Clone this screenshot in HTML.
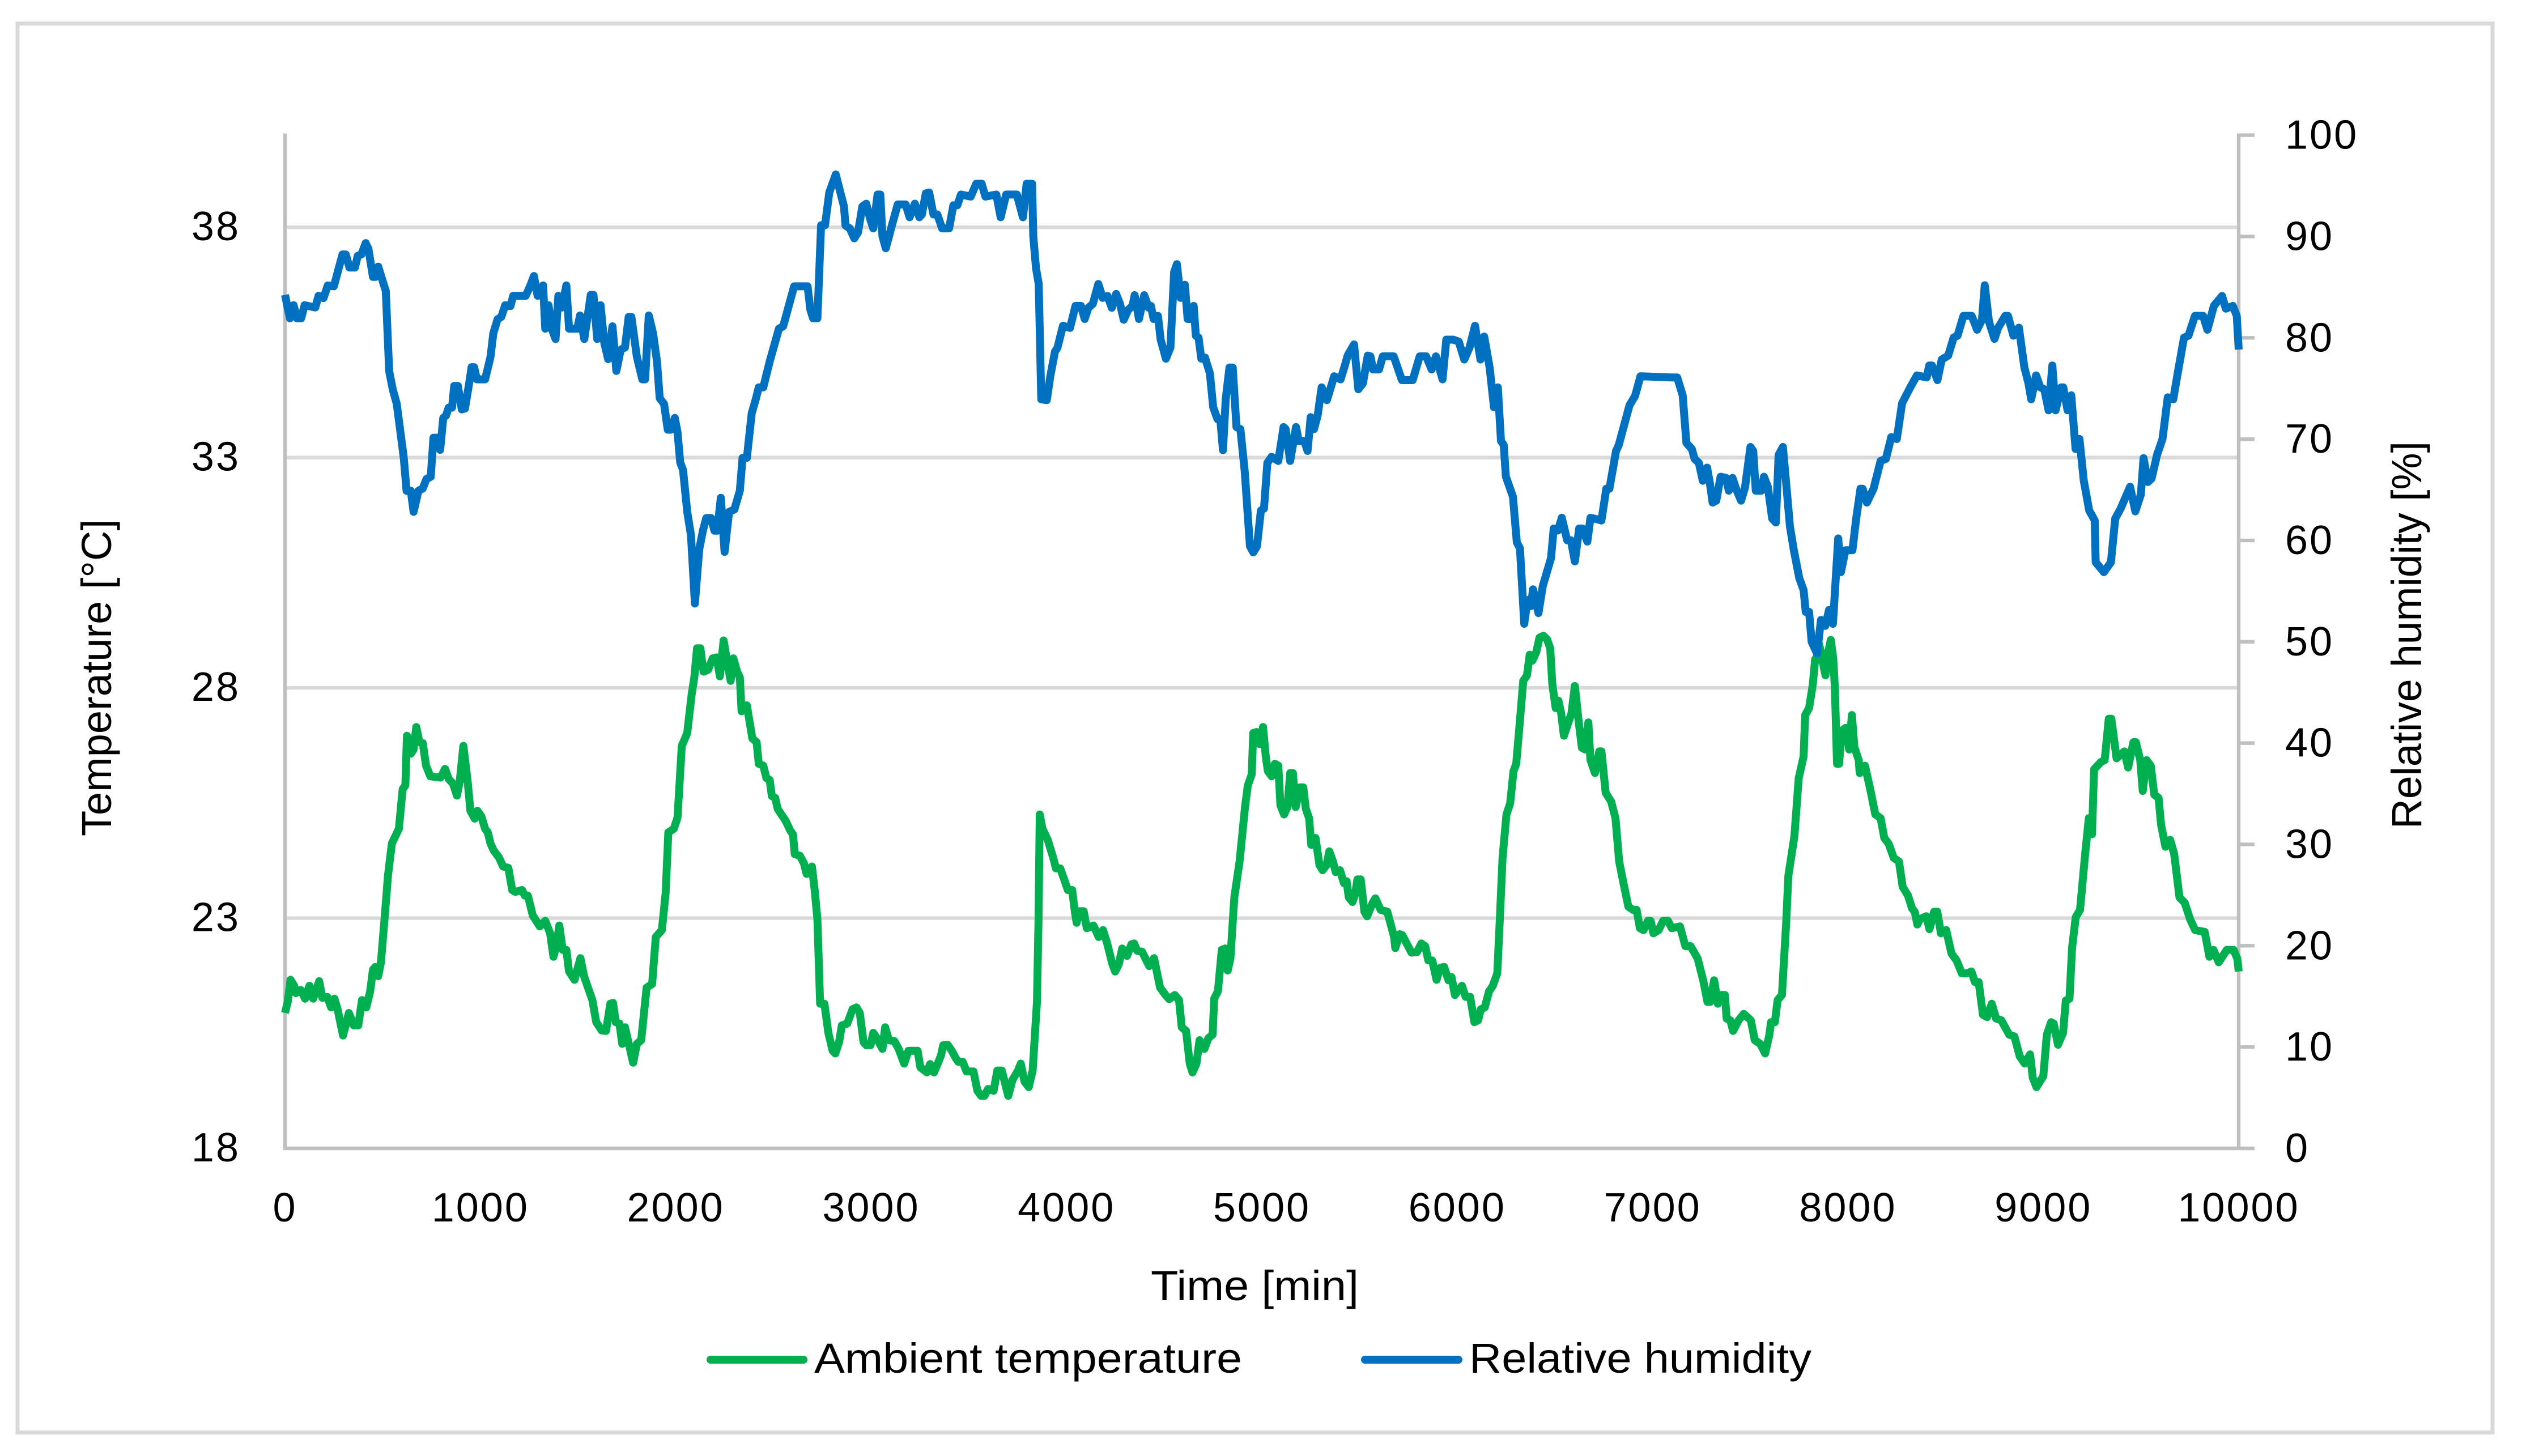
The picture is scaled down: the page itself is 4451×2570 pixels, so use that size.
<!DOCTYPE html>
<html lang="en">
<head>
<meta charset="utf-8">
<title>Ambient temperature and relative humidity over time</title>
<style>
  html, body { margin: 0; padding: 0; background: #fff; width: 4451px; height: 2570px; overflow: hidden; }
  svg { display: block; }
  text { font-family: "Liberation Sans", sans-serif; fill: #000; }
  .tick { font-size: 72px; letter-spacing: 3px; }
  .title { font-size: 74px; }
</style>
</head>
<body>
<svg id="chart" xmlns="http://www.w3.org/2000/svg" width="4451" height="2570" viewBox="0 0 4451 2570">
  <rect x="0" y="0" width="4451" height="2570" fill="#ffffff"/>
  <rect x="31" y="41.5" width="4368" height="2487" fill="none" stroke="#D9D9D9" stroke-width="7"/>
  <g id="grid"></g>
  <g id="axes"></g>
  <g id="series"></g>
  <g id="labels"></g>
  <text class="title" x="2031" y="2295" textLength="367" lengthAdjust="spacingAndGlyphs">Time [min]</text>
  <text class="title" transform="translate(196,1476) rotate(-90)" textLength="560" lengthAdjust="spacingAndGlyphs">Temperature [°C]</text>
  <text class="title" transform="translate(4273,1463) rotate(-90)" textLength="684" lengthAdjust="spacingAndGlyphs">Relative humidity [%]</text>
  <g>
    <line x1="1254" y1="2400" x2="1418" y2="2400" stroke="#00B050" stroke-width="14" stroke-linecap="round"/>
    <text class="title" x="1437" y="2423" textLength="755" lengthAdjust="spacingAndGlyphs">Ambient temperature</text>
    <line x1="2409" y1="2400" x2="2574" y2="2400" stroke="#0070C0" stroke-width="14" stroke-linecap="round"/>
    <text class="title" x="2593" y="2423" textLength="604" lengthAdjust="spacingAndGlyphs">Relative humidity</text>
  </g>
</svg>
<script>
const xTicks = [0,1000,2000,3000,4000,5000,6000,7000,8000,9000,10000];
const tempTicks = [18,23,28,33,38];
const humidityTicks = [0,10,20,30,40,50,60,70,80,90,100];

const tempTime = [
0,14,28,47,56,80,103,125,144,175,191,216,236,253,269,297,327,352,375,394,416,436,450,463,477,491,511,527,547,583,602,616,624,644,658,672,688,705,722,744,796,819,838,860,880,894,913,935,949,971,985,1005,1024,1038,1052,1068,1096,1116,1143,1163,1179,1213,1227,1243,1268,1304,1332,1357,1374,1390,1404,1421,1440,1454,1482,1512,1532,1573,1593,1621,1643,1665,1679,1693,1712,1726,1740,1782,1801,1823,1851,1879,1898,1929,1948,1962,1990,2009,2031,2059,2081,2095,2109,2126,2142,2165,2189,2209,2226,2245,2267,2281,2295,2314,2328,2337,2364,2392,2414,2425,2448,2464,2481,2492,2509,2522,2564,2586,2600,2609,2636,2656,2670,2697,2711,2725,2739,2761,2781,2803,2817,2836,2850,2878,2905,2925,2942,2961,2975,2997,3011,3030,3044,3058,3072,3091,3119,3141,3169,3191,3238,3252,3286,3302,3322,3341,3358,3369,3391,3413,3433,3446,3469,3488,3524,3544,3563,3580,3599,3627,3646,3669,3702,3724,3752,3766,3785,3807,3827,3849,3857,3863,3877,3904,3932,3946,3968,3988,4007,4029,4043,
4052,4068,4088,4104,4138,4165,4187,4207,4235,4249,4268,4285,4310,4332,4346,4362,4387,4423,4448,4479,4507,4526,4554,4576,4590,4612,4631,4645,4665,4681,4706,4726,4748,4756,4775,4795,4812,4825,4839,4859,4886,4914,4928,4948,4956,4973,4989,5006,5020,5031,5050,5067,5084,5095,5114,5131,5145,5159,5173,5195,5212,5225,5242,5253,5275,5295,5311,5331,5345,5364,5378,5400,5420,5434,5445,5464,5478,5489,5506,5525,5539,5567,5581,5608,5642,5677,5683,5705,5719,5766,5794,5816,5836,5852,5872,5894,5913,5933,5955,5971,5988,6024,6043,6066,6088,6107,6121,6141,6163,6182,6205,6218,6232,6252,6271,6288,6302,6321,6338,6357,6371,6385,6405,6421,6441,6460,6476,6487,6504,6518,6532,6546,6566,6585,6602,6621,6638,6654,6671,6682,6705,6727,6738,6760,6788,6810,6829,6851,6876,6899,6918,6935,6954,6976,6990,7004,7031,7054,7079,7098,7140,7168,7195,7231,7259,7281,7295,7315,7334,7348,7370,7379,7398,7412,7440,7467,7503,7523,7551,7576,7598,7606,7626,7640,7662,7684,7695,7726,7748,7773,7781,7801,7820,
7832,7845,7853,7885,7899,7912,7925,7933,7944,7955,7966,7988,8006,8020,8033,8055,8060,8087,8114,8140,8167,8186,8208,8234,8261,8280,8307,8328,8342,8355,8369,8401,8417,8441,8457,8476,8503,8530,8556,8583,8610,8632,8650,8669,8691,8712,8736,8758,8785,8825,8852,8879,8905,8932,8946,8965,9000,9018,9040,9053,9075,9101,9115,9134,9147,9166,9188,9214,9233,9249,9260,9295,9314,9335,9348,9375,9415,9434,9461,9474,9496,9509,9528,9550,9568,9590,9603,9625,9649,9670,9697,9724,9751,9777,9826,9850,9871,9898,9939,9974,9993,10000
];
const tempValues = [
20.94,21.18,21.66,21.53,21.37,21.44,21.25,21.53,21.25,21.63,21.27,21.29,21.06,21.25,21.02,20.45,20.94,20.67,20.67,21.22,21.06,21.41,21.88,21.94,21.74,22.04,23.06,23.92,24.62,24.94,25.80,25.88,26.96,26.57,26.66,27.15,26.82,26.80,26.31,26.08,26.05,26.24,26.02,25.92,25.66,25.96,26.74,25.96,25.33,25.16,25.33,25.21,24.94,24.86,24.62,24.47,24.31,24.12,24.09,23.61,23.57,23.61,23.49,23.49,23.06,22.82,22.94,22.67,22.16,22.43,22.84,22.31,22.31,21.84,21.66,22.13,21.72,21.22,20.74,20.56,20.55,21.14,21.16,20.74,20.71,20.27,20.63,19.86,20.27,20.35,21.49,21.57,22.59,22.74,23.53,24.86,24.94,25.18,26.74,27.02,27.84,28.23,28.86,28.86,28.35,28.39,28.64,28.66,28.25,29.03,28.47,28.15,28.64,28.35,28.23,27.49,27.62,26.90,26.82,26.35,26.31,26.04,26.00,25.65,25.61,25.37,25.10,24.90,24.82,24.39,24.35,24.19,23.96,24.12,23.61,22.98,21.14,21.14,20.51,20.12,20.06,20.31,20.67,20.71,21.02,21.06,20.94,20.31,20.24,20.24,20.51,20.39,20.27,20.16,20.63,20.35,20.33,20.16,19.84,20.12,20.12,19.76,19.65,19.83,19.65,19.84,20.02,20.24,20.25,20.12,19.96,19.88,19.88,19.67,19.67,19.25,19.14,19.14,19.29,19.25,19.69,19.69,19.14,19.49,19.69,19.84,19.45,19.33,19.69,21.18,22.98,25.25,24.94,24.70,24.31,24.08,24.08,23.84,23.61,23.61,23.14,
22.90,23.15,23.15,22.78,22.84,22.59,22.74,22.47,22.00,21.84,22.00,22.34,22.18,22.43,22.45,22.29,22.27,21.96,22.13,21.49,21.33,21.24,21.33,21.22,20.63,20.55,19.84,19.65,19.84,20.35,20.16,20.39,20.47,21.25,21.41,22.31,22.34,21.86,22.12,23.45,24.23,25.41,25.88,26.12,27.02,27.04,26.78,27.15,26.51,26.19,26.08,26.35,26.31,25.45,25.25,25.41,26.15,26.15,25.41,25.84,25.84,25.37,25.17,24.59,24.74,24.15,24.04,24.15,24.45,24.23,24.00,24.04,23.76,23.80,23.45,23.35,23.53,23.84,23.84,23.14,23.04,23.33,23.43,23.18,23.14,22.59,22.35,22.65,22.63,22.25,22.26,22.45,22.39,22.08,22.08,21.66,21.92,21.94,21.65,21.72,21.33,21.53,21.29,21.29,20.74,20.78,21.02,21.06,21.41,21.53,21.80,22.98,24.31,25.25,25.49,26.19,26.35,27.29,28.15,28.27,28.72,28.59,28.78,29.09,29.13,29.05,28.86,28.07,27.56,27.72,27.45,26.96,27.21,27.45,28.04,27.29,26.70,26.66,27.25,26.43,26.15,26.62,26.62,25.72,25.53,25.17,24.23,23.76,23.25,23.18,23.18,22.78,22.74,22.94,22.94,22.67,22.74,22.94,22.94,22.78,22.82,22.39,22.39,22.12,21.65,21.18,21.18,21.65,21.14,21.33,21.33,20.82,20.78,20.55,20.78,20.92,20.78,20.35,20.27,20.06,20.47,20.74,20.74,21.22,21.33,22.90,23.92,24.78,26.04,26.51,27.41,27.56,28.07,
28.62,28.70,28.94,28.27,28.78,29.04,28.63,28.00,26.35,26.35,27.06,27.13,26.66,27.41,26.71,26.43,26.15,26.31,25.80,25.25,25.17,24.74,24.62,24.31,24.23,23.68,23.49,23.21,23.14,22.86,22.98,23.04,22.76,23.14,23.14,22.67,22.74,22.23,22.08,21.80,21.80,21.84,21.61,21.61,20.90,20.85,21.14,20.82,20.78,20.47,20.43,20.00,19.84,20.04,19.53,19.33,19.57,20.47,20.74,20.71,20.25,20.51,21.21,21.25,22.35,23.02,23.18,24.39,25.17,24.82,26.23,26.39,26.43,27.33,27.33,26.47,26.62,26.27,26.82,26.82,26.43,25.76,26.43,26.31,25.68,25.61,25.02,24.55,24.70,24.39,23.45,23.33,22.98,22.74,22.70,22.16,22.31,22.04,22.31,22.31,22.12,21.84
];

const humidityTime = [
0,11,25,44,61,83,100,155,172,197,219,250,294,311,330,358,372,391,413,427,450,463,477,497,516,533,552,572,608,622,644,658,683,705,724,746,760,780,794,810,824,838,855,866,885,905,921,941,955,968,982,1024,1052,1066,1088,1107,1127,1154,1168,1232,1254,1274,1293,1321,1332,1349,1365,1385,1399,1418,1440,1454,1496,1510,1532,1565,1579,1598,1615,1634,1654,1676,1696,1718,1740,1759,1773,1801,1829,1843,1862,1884,1904,1918,1940,1959,1976,1995,2009,2023,2037,2059,2078,2098,2120,2139,2156,2181,2198,2212,2231,2250,2273,2300,2328,2342,2364,2389,2411,2425,2448,2481,2528,2550,2606,2675,2689,2703,2725,2744,2764,2786,2819,2861,
2869,2891,2914,2933,2955,2975,2997,3011,3033,3047,3058,3075,3108,3136,3177,3197,3224,3247,3260,3280,3297,3319,3339,3363,3399,3421,3441,3460,3510,3538,3566,3585,3641,3663,3691,3746,3777,3796,3824,3830,3844,3858,3871,3899,3918,3941,3954,3982,4018,4046,4074,4093,4112,4135,4163,4185,4210,4232,4254,4274,4293,4316,4338,4349,4371,4398,4421,4432,4446,4468,4482,4509,4532,4551,4565,4584,4606,4620,4640,4651,4662,4676,4690,4709,4734,4751,4773,4787,4801,4815,4834,4851,4870,4890,4912,4939,4956,4975,4995,5011,5028,5050,5084,5111,5122,5145,5175,5189,5217,5234,5250,5267,5286,5306,5333,5370,5403,5425,5439,5472,5494,5517,5542,5556,5569,5600,5619,5675,5717,5772,5808,5841,5869,5891,5925,5944,5980,6008,6036,6063,6091,6119,6138,6166,6188,6208,6224,6238,6249,6285,6305,6321,6343,6360,6377,6388,6416,6438,6480,6494,6516,6535,6563,6582,6602,6624,6641,6666,6682,6716,6738,6763,6779,6813,6827,6882,6910,6938,7098,
7126,7154,7173,7201,7215,7237,7257,7279,7293,7307,7326,7348,7376,7390,7409,7431,7453,7473,7501,7515,7528,7556,7570,7590,7612,7631,7645,7667,7687,7703,7723,7751,7773,7784,7801,7814,7842,7862,7884,7903,7923,7950,7964,7987,8023,8042,8064,8075,8097,8131,8167,8194,8222,8250,8277,8319,8353,8403,8416,8430,8458,8480,8513,8541,8561,8591,8633,8661,8686,8700,8722,8750,8769,8805,8819,8847,8875,8903,8924,8938,8963,8985,9005,9027,9046,9063,9091,9102,9124,9143,9165,9185,9207,9235,9263,9268,9310,9346,9368,9396,9444,9471,9499,9513,9535,9554,9582,9610,9637,9665,9693,9720,9743,9776,9818,9840,9873,9915,9934,9970,9990,10000
];
const humidityValues = [
84.24,83.22,81.93,83.22,81.93,81.93,83.22,82.99,84.15,83.92,85.17,85.08,88.23,88.23,86.93,86.93,88.09,88.23,89.35,88.79,86.01,86.01,87.03,85.77,84.61,76.73,74.87,73.48,68.15,64.90,64.90,62.82,64.90,65.13,66.06,66.29,70.14,70.14,68.94,72.09,72.32,73.11,73.11,75.25,75.25,72.93,73.02,75.34,77.10,77.10,75.90,75.90,78.12,80.44,81.83,82.06,83.22,83.13,84.15,84.15,85.08,86.10,84.15,85.17,80.90,83.22,80.90,79.88,84.15,82.99,85.17,80.90,80.90,82.20,79.88,84.24,84.24,79.88,83.22,79.51,77.89,81.14,76.73,78.82,79.05,82.06,82.06,78.12,75.90,75.90,82.20,80.44,77.66,74.04,73.48,70.93,70.93,72.09,70.70,67.69,66.99,62.82,60.50,53.77,59.11,60.96,62.21,62.21,60.96,60.96,64.21,58.87,62.82,63.05,64.90,68.15,68.15,72.56,74.04,75.11,75.11,77.66,80.90,81.14,85.08,85.08,82.76,81.93,81.93,91.11,91.11,94.35,96.12,92.96,
91.08,90.80,89.82,90.41,92.96,93.24,91.59,90.80,94.14,94.14,90.02,88.84,91.20,93.16,93.16,91.90,93.24,91.90,92.18,94.26,94.34,92.18,92.18,90.80,90.80,93.08,93.08,94.14,93.94,95.20,95.20,93.94,94.14,91.90,94.14,94.14,91.90,95.20,95.20,90.02,86.88,85.31,73.93,73.85,76.29,78.64,79.03,81.19,80.98,83.15,83.15,81.86,82.96,83.35,85.31,83.94,84.13,82.96,84.33,83.35,81.78,82.76,83.15,84.21,81.86,84.21,82.96,83.15,81.86,82.17,79.82,77.94,79.03,86.49,87.27,83.94,85.23,81.86,81.86,83.15,80.21,80.02,77.94,78.05,76.49,73.15,71.97,71.97,68.91,73.93,77.07,77.07,71.19,70.99,66.87,59.42,58.83,59.42,62.95,63.15,67.66,68.25,67.85,71.19,70.99,67.85,71.19,69.82,69.82,68.83,72.17,70.99,72.37,75.11,73.85,76.21,75.90,77.27,78.25,79.35,74.92,75.50,78.25,78.17,76.88,76.88,78.17,78.17,75.82,75.82,78.17,78.17,76.88,78.17,75.90,79.82,79.82,79.62,77.86,79.03,81.19,77.86,80.13,77.07,73.15,75.11,69.82,69.42,66.29,64.33,59.81,59.22,51.77,54.12,53.53,55.18,52.83,55.50,58.24,61.18,60.99,62.24,60.01,60.01,57.93,61.18,61.18,59.89,62.24,62.09,61.97,65.11,65.11,68.83,69.42,73.35,74.25,76.21,76.09,
76.09,74.33,69.62,69.03,68.05,67.66,65.89,67.19,65.70,63.74,63.93,66.29,66.17,64.91,66.17,64.91,63.93,65.23,69.23,68.83,64.91,64.91,66.29,65.30,62.16,61.77,68.44,69.23,64.91,61.38,59.03,56.28,55.10,52.95,52.95,50.00,48.83,52.16,51.57,53.14,51.77,60.20,56.87,59.03,59.03,62.16,65.11,65.11,63.74,65.11,67.85,68.05,70.21,70.01,73.54,75.11,76.29,76.09,77.27,77.27,75.82,77.86,78.25,80.02,80.21,82.17,82.17,80.80,81.78,85.19,81.58,79.90,81.00,82.17,82.17,80.21,81.00,77.07,75.50,73.93,76.29,75.11,74.92,72.84,77.27,72.84,75.11,75.11,72.84,74.33,69.03,70.01,65.89,62.95,61.97,57.85,56.87,57.85,62.16,63.15,65.30,62.87,64.52,68.13,65.77,66.09,68.44,70.01,74.13,73.93,77.07,80.02,80.21,82.17,82.17,80.80,83.15,84.13,82.88,83.15,82.17,78.84
];

const NS = 'http://www.w3.org/2000/svg';
const plotLeft = 503, plotRight = 3951, plotBottom = 2027, plotTop = 238.6;
const xScale = t => plotLeft + (t - 0) / 10000 * (plotRight - plotLeft);
const yTemp = v => plotBottom - (v - 18) / (40 - 18) * (plotBottom - plotTop);
const yHumidity = v => plotBottom - v / 100 * (plotBottom - plotTop);

const gridGroup = document.getElementById('grid');
const axesGroup = document.getElementById('axes');
const seriesGroup = document.getElementById('series');
const labelGroup = document.getElementById('labels');

function makeLine(x1, y1, x2, y2, color) {
  const el = document.createElementNS(NS, 'line');
  el.setAttribute('x1', x1);
  el.setAttribute('y1', y1);
  el.setAttribute('x2', x2);
  el.setAttribute('y2', y2);
  el.setAttribute('stroke', color);
  el.setAttribute('stroke-width', '6.4');
  return el;
}
function makeLabel(x, y, anchor, content) {
  const el = document.createElementNS(NS, 'text');
  el.setAttribute('class', 'tick');
  el.setAttribute('x', x);
  el.setAttribute('y', y);
  el.setAttribute('text-anchor', anchor);
  el.textContent = content;
  return el;
}

tempTicks.forEach(v => {
  if (v > 18) {
    const g = makeLine(plotLeft, yTemp(v), plotRight, yTemp(v), '#D9D9D9');
    
    
    gridGroup.appendChild(g);
  }
  const lab = makeLabel(424, yTemp(v) + 23, 'end', String(v));
  
  
  labelGroup.appendChild(lab);
});

const leftAxis = makeLine(plotLeft, plotTop - 3, plotLeft, plotBottom + 3, '#BFBFBF');


axesGroup.appendChild(leftAxis);

const rightAxis = makeLine(plotRight, plotTop - 3, plotRight, plotBottom + 3, '#BFBFBF');


axesGroup.appendChild(rightAxis);

const xAxis = makeLine(plotLeft, plotBottom, plotRight, plotBottom, '#BFBFBF');


axesGroup.appendChild(xAxis);

humidityTicks.forEach(v => {
  const tick = makeLine(plotRight, yHumidity(v), plotRight + 28, yHumidity(v), '#BFBFBF');
  
  
  axesGroup.appendChild(tick);
  const lab = makeLabel(4033, yHumidity(v) + 24, 'start', String(v));
  
  
  labelGroup.appendChild(lab);
});

xTicks.forEach(t => {
  const lab = makeLabel(xScale(t), 2156, 'middle', String(t));
  
  
  labelGroup.appendChild(lab);
});

function buildPath(times, values, yFn) {
  return times.map((t, i) => (i ? 'L' : 'M') + xScale(t).toFixed(1) + ' ' + yFn(values[i]).toFixed(1)).join('');
}
function makeSeries(times, values, yFn, color) {
  const p = document.createElementNS(NS, 'path');
  p.setAttribute('d', buildPath(times, values, yFn));
  p.setAttribute('fill', 'none');
  p.setAttribute('stroke', color);
  p.setAttribute('stroke-width', '14');
  p.setAttribute('stroke-linejoin', 'round');
  return p;
}

const tempLine = makeSeries(tempTime, tempValues, yTemp, '#00B050');


seriesGroup.appendChild(tempLine);

const humidityLine = makeSeries(humidityTime, humidityValues, yHumidity, '#0070C0');


seriesGroup.appendChild(humidityLine);
</script>
</body>
</html>
